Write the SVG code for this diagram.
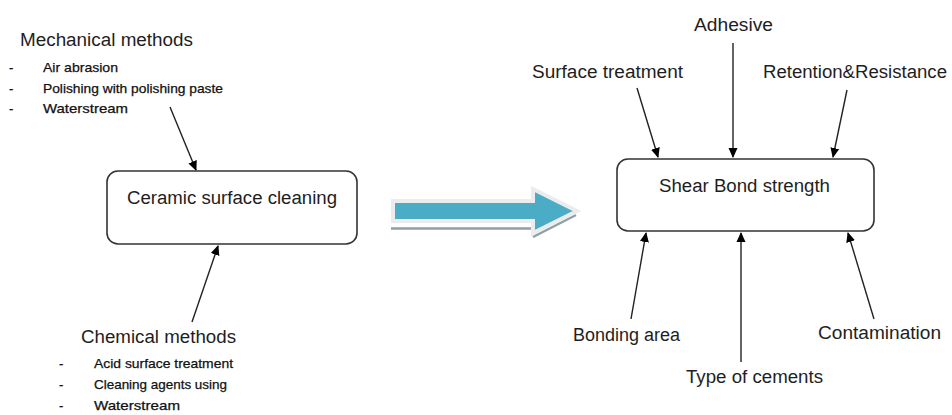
<svg xmlns="http://www.w3.org/2000/svg" width="952" height="415" viewBox="0 0 952 415">
<defs>
<style>
text{font-family:"Liberation Sans",Arial,sans-serif;fill:#1e1e1e}
.h{font-size:18px}
.b{font-size:13px;fill:#111;stroke:#111;stroke-width:0.25}
.box{fill:#fff;stroke:#333;stroke-width:1.6}
.c{stroke:#222;stroke-width:1.4;fill:none;marker-end:url(#ah)}
</style>
<marker id="ah" viewBox="0 0 10 10" refX="9" refY="5" markerWidth="10" markerHeight="10" markerUnits="userSpaceOnUse" orient="auto">
<path d="M0,0.5 L10,5 L0,9.5 z" fill="#000"/>
</marker>
</defs>
<rect width="952" height="415" fill="#fff"/>

<g id="connectors">
<line class="c" x1="170" y1="107" x2="196" y2="170"/>
<line class="c" x1="192" y1="322" x2="218" y2="246"/>
<line class="c" x1="637" y1="88" x2="658" y2="157"/>
<line class="c" x1="733" y1="43" x2="733" y2="157"/>
<line class="c" x1="847" y1="90" x2="833" y2="157"/>
<line class="c" x1="631" y1="319" x2="646" y2="233"/>
<line class="c" x1="741" y1="362" x2="741" y2="233"/>
<line class="c" x1="874" y1="319" x2="848" y2="233"/>
</g>

<g id="transition-arrow">
<path d="M391,228.5 H533 M533,237 L576,215" stroke="#8fa0a6" stroke-width="2.5" fill="none"/>
<polygon points="393,201 533,201 533,189 577,211 533,233 533,221 393,221" fill="#4bacc6" stroke="#ececec" stroke-width="4" stroke-linejoin="miter"/>
</g>

<g id="mechanical">
<text class="h" x="20" y="46" textLength="173" lengthAdjust="spacingAndGlyphs">Mechanical methods</text>
<text class="b" x="9" y="72">-</text>
<text class="b" x="43" y="72" textLength="75" lengthAdjust="spacingAndGlyphs">Air abrasion</text>
<text class="b" x="9" y="93">-</text>
<text class="b" x="43" y="93" textLength="180" lengthAdjust="spacingAndGlyphs">Polishing with polishing paste</text>
<text class="b" x="9" y="113">-</text>
<text class="b" x="43" y="113" textLength="85" lengthAdjust="spacingAndGlyphs">Waterstream</text>
</g>

<g id="ceramic-cleaning">
<rect class="box" x="107" y="171" width="250" height="73" rx="11"/>
<text class="h" x="127" y="204" textLength="210" lengthAdjust="spacingAndGlyphs">Ceramic surface cleaning</text>
</g>

<g id="chemical">
<text class="h" x="81" y="343" textLength="155" lengthAdjust="spacingAndGlyphs">Chemical methods</text>
<text class="b" x="59" y="368">-</text>
<text class="b" x="94" y="368" textLength="139" lengthAdjust="spacingAndGlyphs">Acid surface treatment</text>
<text class="b" x="59" y="389">-</text>
<text class="b" x="94" y="389" textLength="133" lengthAdjust="spacingAndGlyphs">Cleaning agents using</text>
<text class="b" x="59" y="410">-</text>
<text class="b" x="94" y="410" textLength="86" lengthAdjust="spacingAndGlyphs">Waterstream</text>
</g>

<g id="shear-bond">
<rect class="box" x="617" y="159" width="257" height="72" rx="11"/>
<text class="h" x="659" y="192" textLength="171" lengthAdjust="spacingAndGlyphs">Shear Bond strength</text>
</g>

<g id="adhesive"><text class="h" x="694" y="31" textLength="79" lengthAdjust="spacingAndGlyphs">Adhesive</text></g>
<g id="surface-treatment"><text class="h" x="532" y="78" textLength="151" lengthAdjust="spacingAndGlyphs">Surface treatment</text></g>
<g id="retention"><text class="h" x="763" y="78" textLength="184" lengthAdjust="spacingAndGlyphs">Retention&amp;Resistance</text></g>
<g id="bonding-area"><text class="h" x="573" y="341" textLength="107" lengthAdjust="spacingAndGlyphs">Bonding area</text></g>
<g id="type-cements"><text class="h" x="686" y="383" textLength="137" lengthAdjust="spacingAndGlyphs">Type of cements</text></g>
<g id="contamination"><text class="h" x="818" y="339" textLength="123" lengthAdjust="spacingAndGlyphs">Contamination</text></g>
</svg>
